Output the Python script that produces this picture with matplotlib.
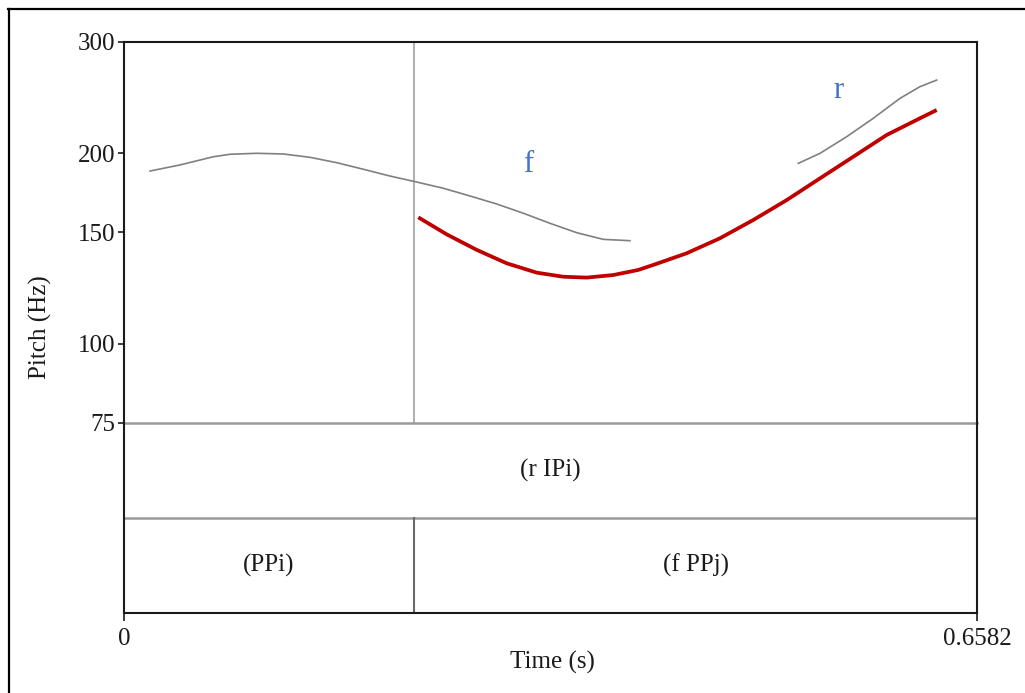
import matplotlib
matplotlib.use("Agg")
import numpy as np
from matplotlib import pyplot as plt
from matplotlib.lines import Line2D

plt.rcParams['font.family'] = ['Liberation Serif', 'DejaVu Serif']

# time axis end (s) and the interval boundary on the tiers
tEnd = 0.6582
boundary = 0.2238

# measured pitch contour, first voiced stretch (s, Hz)
pitch1T = [0.0201, 0.0432, 0.0689, 0.0818, 0.1024, 0.1229, 0.1435, 0.1641, 0.1847, 0.2053,
           0.2245, 0.2464, 0.2670, 0.2876, 0.3081, 0.3287, 0.3493, 0.3698, 0.3904]
pitch1Hz = [187.6, 191.8, 197.6, 199.4, 200.1, 199.6, 197.2, 193.4, 188.8, 184.2,
            180.5, 176.2, 171.3, 166.4, 160.9, 155.1, 149.9, 146.3, 145.6]

# second voiced stretch
pitch2T = [0.5203, 0.5371, 0.5577, 0.5782, 0.5988, 0.6142, 0.6271]
pitch2Hz = [192.9, 200.1, 212.6, 227.3, 244.4, 255.0, 261.2]

# stylised contour drawn over the pitch track
styT = [0.2271, 0.2490, 0.2722, 0.2953, 0.3185, 0.3390, 0.3570, 0.3776, 0.3968, 0.4084,
        0.4342, 0.4599, 0.4856, 0.5114, 0.5371, 0.5627, 0.5885, 0.6142, 0.6271]
styHz = [158.5, 149.0, 140.8, 134.1, 129.6, 127.7, 127.3, 128.5, 130.9, 133.3,
         139.1, 146.9, 157.0, 168.8, 182.7, 197.6, 213.9, 227.3, 234.2]

yTicks = [75, 100, 150, 200, 300]

# tier labels: (start, end, text)
tier1 = [(0.0, tEnd, "(r IPi)")]
tier2 = [(0.0, boundary, "(PPi)"), (boundary, tEnd, "(f PPj)")]

# tone labels (s, Hz, text)
tones = [(0.3117, 191.8, "f"), (0.5510, 251.9, "r")]

W, H = 1025, 693
fig = plt.figure(figsize=(W / 100, H / 100), dpi=100)
fig.patch.set_facecolor("white")

def box(l, t, r, b):
    return [l / W, 1 - b / H, (r - l) / W, (b - t) / H]

fs = 18
black = "#1a1a1a"
gray = "#9a9a9a"

axP = fig.add_axes(box(124, 42, 977, 423))
axT = fig.add_axes(box(124, 423, 977, 613))
axT.patch.set_visible(False)

# pitch panel
axP.set_yscale("log")
axP.set_xlim(0, tEnd)
axP.set_ylim(75, 300)
axP.set_yticks(yTicks)
axP.set_yticklabels([str(v) for v in yTicks])
axP.yaxis.set_minor_locator(matplotlib.ticker.NullLocator())
axP.set_xticks([])
axP.tick_params(axis="y", direction="out", length=4, width=1.2, pad=2,
                labelsize=fs, colors=black)
for s in ["top", "left", "right"]:
    axP.spines[s].set_color(black)
    axP.spines[s].set_linewidth(1.5)
axP.spines["bottom"].set_color(gray)
axP.spines["bottom"].set_linewidth(1.8)

axP.axvline(boundary, color="#a8a8a8", linewidth=1.3)
axP.plot(pitch1T, pitch1Hz, color="#808080", linewidth=1.2, solid_joinstyle="round")
axP.plot(pitch2T, pitch2Hz, color="#808080", linewidth=1.2, solid_joinstyle="round")
axP.plot(styT, styHz, color="#c00000", linewidth=2.7, solid_joinstyle="round",
         solid_capstyle="butt")

for t, hz, lab in tones:
    axP.text(t, hz, lab, color="#4472c4", fontsize=22, ha="center", va="center")

# tiers
axT.set_xlim(0, tEnd)
axT.set_ylim(0, 2)
axT.set_yticks([])
axT.set_xticks([0, tEnd])
axT.set_xticklabels(["0", "0.6582"])
axT.tick_params(axis="x", direction="out", length=6, width=1.2, pad=5,
                labelsize=fs, colors=black)
for s in ["bottom", "left", "right"]:
    axT.spines[s].set_color(black)
    axT.spines[s].set_linewidth(1.5)
axT.spines["top"].set_visible(False)
axT.axhline(1, color=gray, linewidth=1.8)
axT.plot([boundary, boundary], [0, 1], color="#6a6a6a", linewidth=1.5)

for a, b, lab in tier1:
    axT.text((a + b) / 2, 1.5, lab, fontsize=fs, ha="center", va="center", color=black)
for a, b, lab in tier2:
    axT.text((a + b) / 2, 0.5, lab, fontsize=fs, ha="center", va="center", color=black)

fig.text(40 / W, 1 - 327 / H, "Pitch (Hz)", rotation=90, fontsize=fs,
         ha="center", va="center", color=black)
fig.text(552 / W, 1 - 662 / H, "Time (s)", fontsize=fs,
         ha="center", va="center", color=black)

# outer frame
fig.add_artist(Line2D([8 / W, 1], [1 - 8.5 / H, 1 - 8.5 / H], color="black", linewidth=1.6))
fig.add_artist(Line2D([8.5 / W, 8.5 / W], [0, 1 - 8.5 / H], color="black", linewidth=1.6))

fig.savefig("out.png", dpi=100)
